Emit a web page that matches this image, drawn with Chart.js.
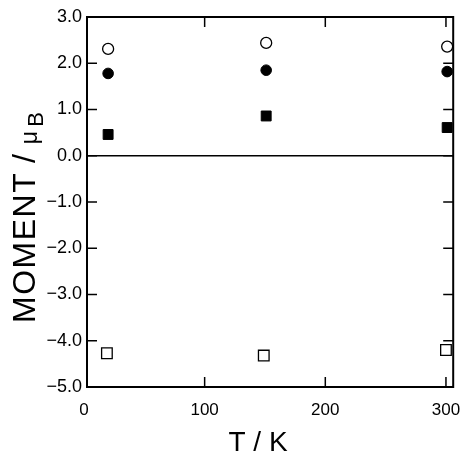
<!DOCTYPE html>
<html>
<head>
<meta charset="utf-8">
<script src="https://cdn.jsdelivr.net/npm/chart.js@4/dist/chart.umd.min.js"></script>
<style>
  html, body { margin: 0; padding: 0; background: #fff; }
</style>
</head>
<body>
<canvas id="chart" width="462" height="452"></canvas>
<script>
// values
const xTicks = [0, 100, 200, 300];
const yTicks = [3, 2, 1, 0, -1, -2, -3, -4, -5];

const temps = [20, 151, 301];
const tempsOpenSquare = [19, 149, 300];

const openCircle = [2.31, 2.44, 2.36];
const filledCircle = [1.78, 1.85, 1.82];
const filledSquare = [0.46, 0.86, 0.61];
const openSquare = [-4.27, -4.32, -4.20];

const FONT = '"Liberation Sans", Arial, Helvetica, sans-serif';

function pts(xs, ys) {
    return xs.map((x, i) => ({ x: x, y: ys[i] }));
}

function line(ctx, x1, y1, x2, y2) {
    ctx.beginPath();
    ctx.moveTo(x1, y1);
    ctx.lineTo(x2, y2);
    ctx.stroke();
}

const framePlugin = {
    id: 'frame',
    beforeDatasetsDraw(chart) {
        const { ctx, chartArea: a, scales: { x, y } } = chart;
        ctx.save();
        ctx.strokeStyle = '#000';
        ctx.lineWidth = 2;
        ctx.strokeRect(a.left, a.top, a.right - a.left, a.bottom - a.top);

        // inward ticks
        ctx.lineWidth = 1.5;
        xTicks.forEach(v => {
            if (v <= x.min || v >= x.max) return;
            const px = x.getPixelForValue(v);
            line(ctx, px, a.bottom, px, a.bottom - 10);
            line(ctx, px, a.top, px, a.top + 10);
        });
        yTicks.forEach(v => {
            if (v <= y.min || v >= y.max) return;
            const py = y.getPixelForValue(v);
            line(ctx, a.left, py, a.left + 10, py);
            line(ctx, a.right, py, a.right - 10, py);
        });

        // zero line
        const y0 = y.getPixelForValue(0);
        line(ctx, a.left, y0, a.right, y0);
        ctx.restore();
    },
    afterDraw(chart) {
        const { ctx } = chart;
        ctx.save();
        ctx.fillStyle = '#000';
        ctx.textBaseline = 'alphabetic';

        // x title
        ctx.font = '28px ' + FONT;
        ctx.textAlign = 'center';
        ctx.fillText('T / K', 258, 451);

        // y title, rotated, with subscript B
        ctx.textAlign = 'left';
        ctx.translate(35, 323);
        ctx.rotate(-Math.PI / 2);
        ctx.font = '32px ' + FONT;
        ctx.letterSpacing = '1.5px';
        ctx.fillText('MOMENT', 0, 0);
        let pos = ctx.measureText('MOMENT').width;
        ctx.letterSpacing = '0px';
        ctx.fillText(' / ', pos, 0);
        pos += ctx.measureText(' / ').width + 1;
        ctx.font = '23px ' + FONT;
        ctx.fillText('\u03bc', pos, 2);
        pos += ctx.measureText('\u03bc').width + 4;
        ctx.font = '22px ' + FONT;
        ctx.fillText('B', pos, 8);
        ctx.restore();
    }
};

const ctx = document.getElementById('chart').getContext('2d');

new Chart(ctx, {
    type: 'scatter',
    data: {
        datasets: [
            {
                label: 'open circle',
                data: pts(temps, openCircle),
                pointStyle: 'circle',
                radius: 5.5,
                borderWidth: 1.3,
                borderColor: '#000',
                backgroundColor: '#fff'
            },
            {
                label: 'filled circle',
                data: pts(temps, filledCircle),
                pointStyle: 'circle',
                radius: 5.3,
                borderWidth: 1,
                borderColor: '#000',
                backgroundColor: '#000'
            },
            {
                label: 'filled square',
                data: pts(temps, filledSquare),
                pointStyle: 'rect',
                radius: 7,
                borderWidth: 1,
                borderColor: '#000',
                backgroundColor: '#000'
            },
            {
                label: 'open square',
                data: pts(tempsOpenSquare, openSquare),
                pointStyle: 'rect',
                radius: 7.5,
                borderWidth: 1.3,
                borderColor: '#000',
                backgroundColor: '#fff'
            }
        ]
    },
    options: {
        responsive: false,
        animation: false,
        clip: false,
        layout: { padding: { top: 17, right: 7, left: 0, bottom: 0 } },
        plugins: {
            legend: { display: false },
            tooltip: { enabled: false }
        },
        scales: {
            x: {
                type: 'linear',
                min: 2.5,
                max: 306,
                grid: { display: false, drawTicks: false, tickLength: 0 },
                border: { display: false },
                ticks: {
                    includeBounds: false,
                    padding: 13,
                    color: '#000',
                    maxRotation: 0,
                    autoSkip: false,
                    font: { family: FONT, size: 17 }
                },
                afterBuildTicks: scale => {
                    scale.ticks = xTicks.map(v => ({ value: v }));
                },
                afterFit: scale => {
                    scale.height = 65;
                    scale.paddingLeft = 0;
                    scale.paddingRight = 0;
                }
            },
            y: {
                type: 'linear',
                min: -5,
                max: 3,
                grid: { display: false, drawTicks: false, tickLength: 0 },
                border: { display: false },
                ticks: {
                    padding: 5,
                    color: '#000',
                    autoSkip: false,
                    font: { family: FONT, size: 18 },
                    callback: v => (v < 0 ? '\u2212' : '') + Math.abs(v).toFixed(1)
                },
                afterBuildTicks: scale => {
                    scale.ticks = yTicks.map(v => ({ value: v }));
                },
                afterFit: scale => {
                    scale.width = 87;
                    scale.paddingTop = 0;
                    scale.paddingBottom = 0;
                }
            }
        }
    },
    plugins: [framePlugin]
});
</script>
</body>
</html>
